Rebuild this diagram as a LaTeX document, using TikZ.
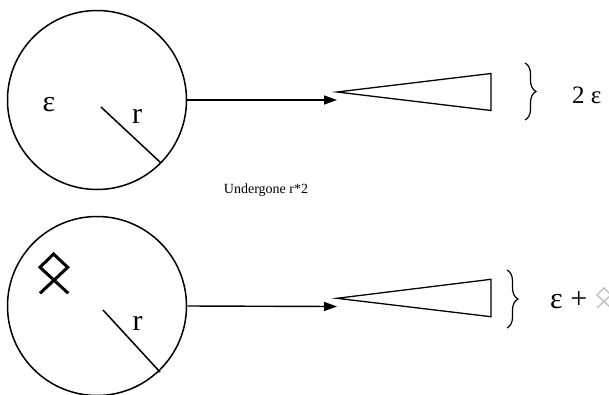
\documentclass[tikz,border=0pt]{standalone}
\usepackage{fontspec}
\setmainfont{Liberation Serif}
\usetikzlibrary{arrows.meta,decorations.pathreplacing}
\tikzset{
  disc/.style={circle,draw,line width=1.5pt,minimum size=179pt,inner sep=0pt},
  bigtxt/.style={inner sep=0pt,font=\fontsize{30}{30}\selectfont},
  lbltxt/.style={inner sep=0pt,font=\fontsize{25}{25}\selectfont},
  feed/.style={line width=1.4pt,-{Triangle[length=13pt,width=9pt]}},
  wedge/.style={line width=1.3pt,line join=miter},
  radius/.style={line width=1.5pt},
  rune/.style={line width=3pt},
  curly/.style={line width=1.2pt,decorate,decoration={brace,amplitude=11pt}}
}
\begin{document}
\begin{tikzpicture}[x=1pt,y=-1pt]
\useasboundingbox (0,0) rectangle (609,394);

% upper disc
\node[disc] (c1) at (97,100) {};
\coordinate (r1a) at (101,107);
\coordinate (r1b) at (161,163);
\draw[radius] (r1a) -- (r1b);
\node[bigtxt] (eps1) at (49,105) {ε};
\node[bigtxt] (rad1) at (137,116) {r};

% upper wedge
\coordinate (t1) at (337,100);
\coordinate (w1a) at (337,92);
\coordinate (w1b) at (491,73.5);
\coordinate (w1c) at (491,110.5);
\draw[wedge] (w1a) -- (w1b) -- (w1c) -- cycle;
\draw[feed] (c1.east) -- (t1);
\coordinate (b1a) at (525,63);
\coordinate (b1b) at (525,120);
\draw[curly] (b1a) -- (b1b);
\node[lbltxt,anchor=base west] (sum1) at (572,103) {2 ε};

% caption between the rows
\node[inner sep=0pt,font=\fontsize{14}{14}\selectfont] (cap) at (266,190) {Undergone r*2};

% lower disc
\node[disc] (c2) at (97,306) {};
\coordinate (r2a) at (103,310);
\coordinate (r2b) at (160,372);
\draw[radius] (r2a) -- (r2b);
\node[bigtxt] (rad2) at (137.5,323.5) {r};
\coordinate (o1) at (40,293.3);
\coordinate (o2) at (67.7,267.3);
\coordinate (o3) at (53.5,254);
\coordinate (o4) at (40,267.3);
\coordinate (o5) at (68.3,293.3);
\draw[rune] (o1) -- (o2) -- (o3) -- (o4) -- (o5);

% lower wedge
\coordinate (t2) at (337,306.5);
\coordinate (w2a) at (337,298.3);
\coordinate (w2b) at (491,279.3);
\coordinate (w2c) at (491,316.7);
\draw[wedge] (w2a) -- (w2b) -- (w2c) -- cycle;
\draw[feed] (c2.east) -- (t2);
\coordinate (b2a) at (507,270);
\coordinate (b2b) at (507,328);
\draw[curly] (b2a) -- (b2b);
\node[bigtxt,anchor=base west] (sum2) at (550,308) {ε +};
\coordinate (g1) at (597,308);
\coordinate (g2) at (611,295);
\coordinate (g3) at (604,288);
\coordinate (g4) at (597,295);
\coordinate (g5) at (611,308);
\draw[line width=1.6pt,gray!45] (g1) -- (g2) -- (g3) -- (g4) -- (g5);
\end{tikzpicture}
\end{document}
